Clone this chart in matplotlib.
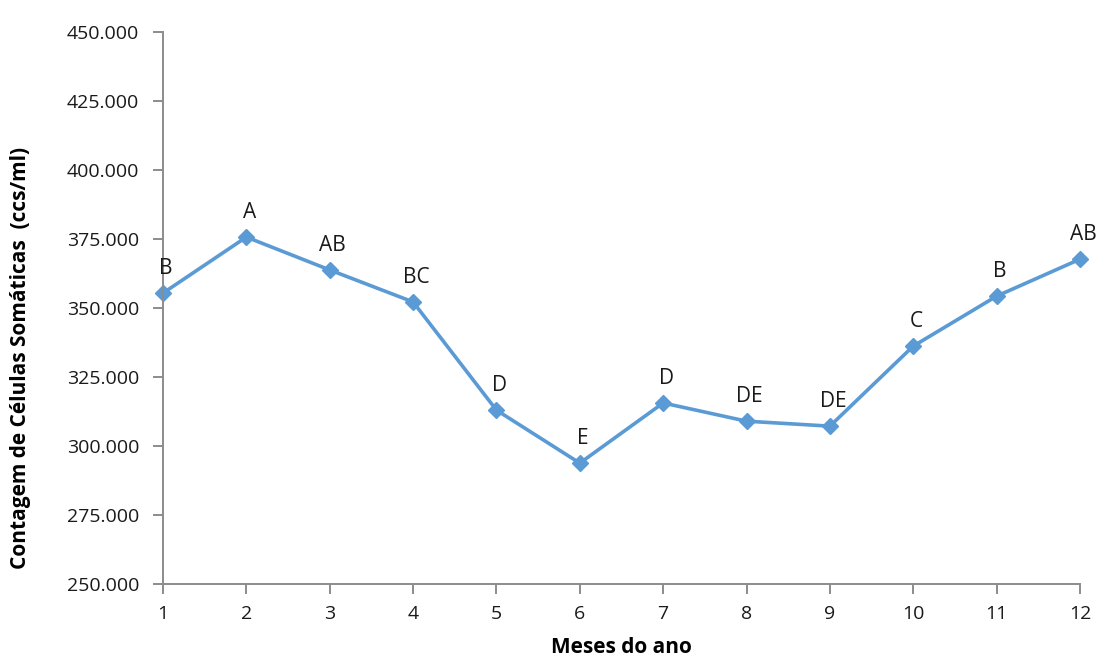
import matplotlib.pyplot as plt
from matplotlib.ticker import FuncFormatter

meses = [1, 2, 3, 4, 5, 6, 7, 8, 9, 10, 11, 12]
ccs = [355400, 375700, 363800, 352200, 313000, 293800,
       315600, 309000, 307200, 336200, 354300, 367700]
letras = ['B', 'A', 'AB', 'BC', 'D', 'E', 'D', 'DE', 'DE', 'C', 'B', 'AB']

plt.rcParams['font.family'] = ['Open Sans', 'DejaVu Sans']

fig = plt.figure(figsize=(10.99, 6.67), dpi=100)
ax = fig.add_axes([0.1483, 0.1244, 0.8344, 0.8276])

cor = '#5b9bd5'
ax.plot(meses, ccs, color=cor, linewidth=2.6, marker='D', markersize=8,
        markeredgecolor=cor, markerfacecolor=cor, clip_on=False)

for x, y, t in zip(meses, ccs, letras):
    ax.annotate(t, (x, y), xytext=(3, 14), textcoords='offset pixels',
                ha='center', va='bottom', fontsize=15, color='#1a1a1a')

ax.set_xlim(1, 12)
ax.set_ylim(250000, 450000)
ax.set_xticks(meses)
ax.set_yticks(range(250000, 450001, 25000))
ax.yaxis.set_major_formatter(FuncFormatter(lambda v, p: f'{int(v):,}'.replace(',', '.')))

for s in ['top', 'right']:
    ax.spines[s].set_visible(False)
for s in ['left', 'bottom']:
    ax.spines[s].set_color('#8c8c8c')
    ax.spines[s].set_linewidth(1.4)

ax.tick_params(axis='both', direction='out', length=7, width=1.4,
               color='#8c8c8c', labelsize=14, labelcolor='#1a1a1a')
ax.tick_params(axis='x', pad=8)
ax.tick_params(axis='y', pad=10)

ax.set_xlabel('Meses do ano', fontsize=15, fontweight='bold', labelpad=10)
# y title sits a bit below the middle of the axis
fig.text(0.019, 0.463, 'Contagem de Células Somáticas  (ccs/ml)', rotation=90,
         ha='center', va='center', fontsize=15, fontweight='bold')

fig.savefig('out.png', dpi=100)
